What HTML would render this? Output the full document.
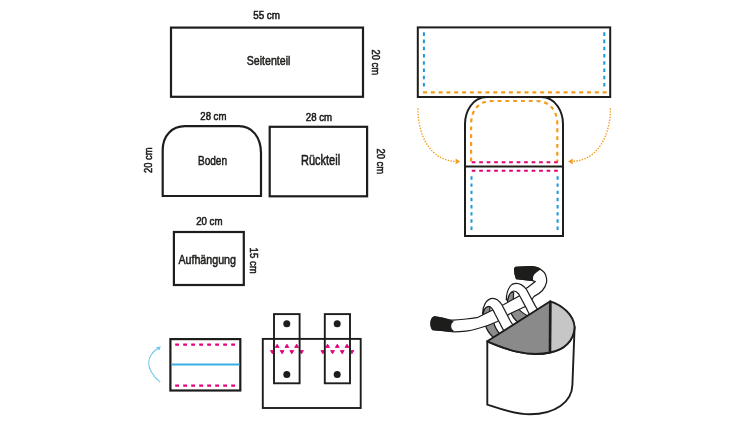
<!DOCTYPE html>
<html><head><meta charset="utf-8">
<style>
html,body{margin:0;padding:0;background:#fff;width:750px;height:422px;overflow:hidden}
svg{display:block;will-change:transform}
text{font-family:"Liberation Sans",sans-serif;fill:#1d1d1b;stroke:#1d1d1b;stroke-width:0.55px}
</style></head><body>
<svg width="750" height="422" viewBox="0 0 750 422">
<rect width="750" height="422" fill="#fff"/>
<path fill="#e2007a" stroke="#e2007a" stroke-width="0.9" stroke-linejoin="round" d="M270.5,350.6 H274.3 L272.4,353.8 Z M280.2,350.6 H284.0 L282.1,353.8 Z M289.9,350.6 H293.7 L291.8,353.8 Z M299.6,350.6 H303.4 L301.5,353.8 Z M275.3,347.4 H279.1 L277.2,344.2 Z M285.0,347.4 H288.8 L286.9,344.2 Z M294.7,347.4 H298.5 L296.6,344.2 Z M320.9,350.6 H324.7 L322.8,353.8 Z M330.6,350.6 H334.4 L332.5,353.8 Z M340.3,350.6 H344.1 L342.2,353.8 Z M350.0,350.6 H353.8 L351.9,353.8 Z M325.7,347.4 H329.5 L327.6,344.2 Z M335.4,347.4 H339.2 L337.3,344.2 Z M345.1,347.4 H348.9 L347.0,344.2 Z"/>
<g fill="none" stroke="#1d1d1b" stroke-width="2.2">
  <!-- Seitenteil -->
  <rect x="171" y="27.6" width="192" height="69.2"/>
  <!-- Boden -->
  <path d="M162.7,196 V150 C162.7,135.5 172,126.2 185,126.2 H239 C252,126.2 261,137 261,153 V196 Z"/>
  <!-- Rückteil -->
  <rect x="269.7" y="126.8" width="97.4" height="69.5"/>
  <!-- Aufhängung -->
  <rect x="173.9" y="232" width="69.9" height="53"/>
  <!-- folded strap -->
  <rect x="170.4" y="339.1" width="69.9" height="51.4"/>
  <!-- bag with straps -->
  <g stroke-width="1.9"><rect x="262.8" y="338.9" width="97.9" height="69.1"/>
  <rect x="274" y="314.1" width="25.6" height="69.2"/>
  <rect x="324.8" y="314.1" width="25.2" height="69.2"/></g>
  <!-- right assembly -->
  <g stroke-width="2"><rect x="417.8" y="27.4" width="192.4" height="69.6"/>
  <path d="M465,236 V124 C465,112.5 471.8,97 487,97 H541 C556.2,97 563,112.5 563,124 V236 Z"/>
  <line x1="465" y1="166.5" x2="563" y2="166.5"/></g>
</g>
<!-- dots on straps -->
<g fill="#1d1d1b">
  <circle cx="286.8" cy="323.8" r="3.5"/>
  <circle cx="286.8" cy="374.4" r="3.5"/>
  <circle cx="337.2" cy="323.8" r="3.5"/>
  <circle cx="337.2" cy="374.4" r="3.5"/>
</g>
<!-- dashes -->
<g fill="none" stroke-width="2">
  <path d="M175.2,344.6 H235" stroke="#e2007a" stroke-width="2.2" stroke-dasharray="3.8 4.2"/>
  <path d="M175.2,385.7 H235" stroke="#e2007a" stroke-width="2.2" stroke-dasharray="3.8 4.2"/>
  <path d="M171.5,364.5 H239.5" stroke="#3aaee2" stroke-width="2.1"/>
  <path d="M423.9,32.3 V86.6" stroke="#1a9ad6" stroke-dasharray="3.6 3.63"/>
  <path d="M604.3,32.3 V86.6" stroke="#1a9ad6" stroke-dasharray="3.6 3.63"/>
  <path d="M423,92.3 H607" stroke="#f39c1e" stroke-width="2.2" stroke-dasharray="4 3.81"/>
  <path d="M471.1,161.5 V124 C471.1,110 479,101 492,101 H536 C549,101 557.3,110 557.3,124 V161.5" stroke="#f39c1e" stroke-width="2.2" stroke-dasharray="3.9 3.9"/>
  <path d="M471.7,162.2 H558.5" stroke="#e2007a" stroke-dasharray="3.7 3.79"/>
  <path d="M471.7,170.7 H558.5" stroke="#e2007a" stroke-dasharray="3.7 3.79"/>
  <path d="M471.5,176.3 V230" stroke="#1a9ad6" stroke-dasharray="3.4 3.77"/>
  <path d="M557.6,176.3 V230" stroke="#1a9ad6" stroke-dasharray="3.4 3.77"/>
</g>
<!-- orange dotted arrows -->
<g fill="none" stroke="#f39c1e" stroke-width="1.4" stroke-dasharray="1.4 1.4">
  <path d="M417.9,108.3 C417.9,138 432,161.4 457,161.4"/>
  <path d="M610.4,108.3 C610.4,138 596,161.4 571,161.4"/>
</g>
<g fill="#f39c1e">
  <path d="M460.2,161.4 L455.6,158.5 L455.6,164.3 Z"/>
  <path d="M568.1,161.4 L572.7,158.5 L572.7,164.3 Z"/>
</g>
<!-- blue arc arrow -->
<path d="M160.2,382.2 C144,368 146,356 159,347.5" fill="none" stroke="#74c6ea" stroke-width="1.1"/>
<path d="M160.8,346.2 L155.8,347.6 L159.3,350.6 Z" fill="#74c6ea"/>


<!-- basket illustration -->
<g stroke="#1d1d1b" stroke-linejoin="round" stroke-width="1.2">
  <!-- loop 1 back parts -->
  <path d="M483.2,316 L483.2,314 C483.5,310 485.5,306.4 488.7,306.4 C489.2,306.4 489.5,306.5 489.9,306.7 L489.7,313 Z" fill="#8c8c8c"/>
  <path d="M485.3,325 C487,331 490,334.5 493.8,338 L500,334.2 C497,331 495,327.5 493.3,321.5 Z" fill="#8c8c8c"/>
  <!-- loop 2 back parts -->
  <path d="M507.6,303 L507.6,300 C508.5,295 510.5,292.2 512.5,292.2 C513,292.2 513.3,292.3 513.6,292.4 L513.3,300.5 Z" fill="#8c8c8c"/>
  <path d="M510.8,312 C512,316.5 514.5,319.5 518.5,322.8 L529,316.5 C524,314 520.5,311.5 518.2,308.5 Z" fill="#8c8c8c"/>
  <!-- tube body -->
  <path d="M434.5,316.9 C440,317.6 446,319 451,320 C456,320.4 461,319.6 466,319 C470,318.6 474,318 478,317.3 L503.8,304.5 L519.2,296 L524.7,289.3 L528.2,286.9 L535.3,281.6 L531.8,280.4 L516.4,278.6 C515.2,276 514.6,272 514.6,269.1 C514.8,267.8 515.2,267.4 515.8,267.3 L530.6,266.7 C535,266.9 538,267.8 540,269.1 C543,271 545.5,273.5 546,276.2 C546.8,278.5 546.8,280.5 546.6,282.2 C546,285.5 544.5,288 542.4,290.5 C540,293 537,295 534.1,296.4 C532,299 529.5,303 526.4,306 L510.3,313.5 L497.4,321.5 C491,324.5 484,327 478,328.5 C474,329.8 470,330.8 466,331.1 C462,331.5 458,331.8 454.4,331.8 C450,331.5 446,331 443.8,330.7 L433.1,329.7 C431.5,328.5 430.8,326 431,322.2 C431.3,319.5 432.5,317.5 434.5,316.9 Z" fill="#fff"/>
  <!-- grips -->
  <path d="M434.5,316.9 C440,317.6 446,319 453,321.2 C451,322.5 450.4,324.5 450.5,326.3 C450.6,328.2 451.3,329.6 453,330.8 C450,331 446,331 443.8,330.7 L433.1,329.7 C431.5,328.5 430.8,326 431,322.2 C431.3,319.5 432.5,317.5 434.5,316.9 Z" fill="#1d1d1b"/>
  <path d="M515.8,267.3 L530.6,266.7 C535,266.9 538,267.8 540,269.1 C538,270.5 535,272.5 533.5,274.5 C532.5,276 532.2,278 532.4,280 L531.8,280.4 L516.4,278.6 C515.2,276 514.6,272 514.6,269.1 C514.8,267.8 515.2,267.4 515.8,267.3 Z" fill="#1d1d1b"/>
  <!-- front strands -->
  <path d="M482.6,313.8 C482.6,306 486.5,298.3 492.9,298.3 C497,298.3 499.5,301 502,305 L510.3,321 L513.3,325.5 L503.8,330.9 L495.3,314.5 C493.5,310.5 491.2,306.4 488.7,306.4 C485.5,306.4 483.5,310 483.3,313.6 Z" fill="#fff"/>
  <path d="M506.3,300 C506.3,296 507.5,290 510,286.5 C511.5,284.3 513.5,283.4 516.4,283.4 C520,283.4 523.5,285.7 526.5,289.5 L535.3,305.9 L538.5,311 L530,315.8 L527,309.4 L518.7,294 C517,292 515.5,291 514,291 C511.5,291 509,294 507.6,300 Z" fill="#fff"/>
  <!-- basket -->
  <path d="M487.3,341.3 C505,349 527,357.5 550,352.5 C565,350 574,340 574.6,327 L572.4,385 C572,402 555,414.3 530,414.3 C515,414.3 500,409 487.3,404.7 Z" fill="#fff" stroke-width="1.9"/>
  <path d="M487.3,341.3 L550.3,301.3 L550,352.5 C527,357.5 505,349 487.3,341.3 Z" fill="#8a8a8a" stroke-width="1.9"/>
  <path d="M550.3,301.3 C562,305 574,315 574.6,327 C574,340 565,350 550,352.5 Z" fill="#c6c6c6" stroke-width="1.9"/>
  <line x1="550.3" y1="301.3" x2="550" y2="352.5" stroke-width="2.6"/>
</g>

<!-- texts -->
<text x="253.2" y="18.6" font-size="10.9" textLength="26.8" lengthAdjust="spacingAndGlyphs">55 cm</text>
<text x="246.8" y="64.8" font-size="13.6" textLength="43.6" lengthAdjust="spacingAndGlyphs">Seitenteil</text>
<text transform="translate(372.3,49.5) rotate(90)" x="0" y="0" font-size="10.9" textLength="25.6" lengthAdjust="spacingAndGlyphs">20 cm</text>
<text x="200.3" y="120.4" font-size="10.7" textLength="26.1" lengthAdjust="spacingAndGlyphs">28 cm</text>
<text x="197.9" y="164.7" font-size="13.5" textLength="29.2" lengthAdjust="spacingAndGlyphs">Boden</text>
<text transform="translate(152.2,173) rotate(-90)" x="0" y="0" font-size="10.9" textLength="25.5" lengthAdjust="spacingAndGlyphs">20 cm</text>
<text x="305.8" y="120.7" font-size="10.7" textLength="26.2" lengthAdjust="spacingAndGlyphs">28 cm</text>
<text x="301" y="164.8" font-size="14" textLength="39.1" lengthAdjust="spacingAndGlyphs">Rückteil</text>
<text transform="translate(376.8,148.4) rotate(90)" x="0" y="0" font-size="10.9" textLength="25.6" lengthAdjust="spacingAndGlyphs">20 cm</text>
<text x="196.2" y="224.8" font-size="10.7" textLength="26.3" lengthAdjust="spacingAndGlyphs">20 cm</text>
<text x="178.4" y="263.6" font-size="13.5" textLength="57.6" lengthAdjust="spacingAndGlyphs">Aufhängung</text>
<text transform="translate(249.6,247.6) rotate(90)" x="0" y="0" font-size="10.9" textLength="26.1" lengthAdjust="spacingAndGlyphs">15 cm</text>
</svg>
</body></html>
